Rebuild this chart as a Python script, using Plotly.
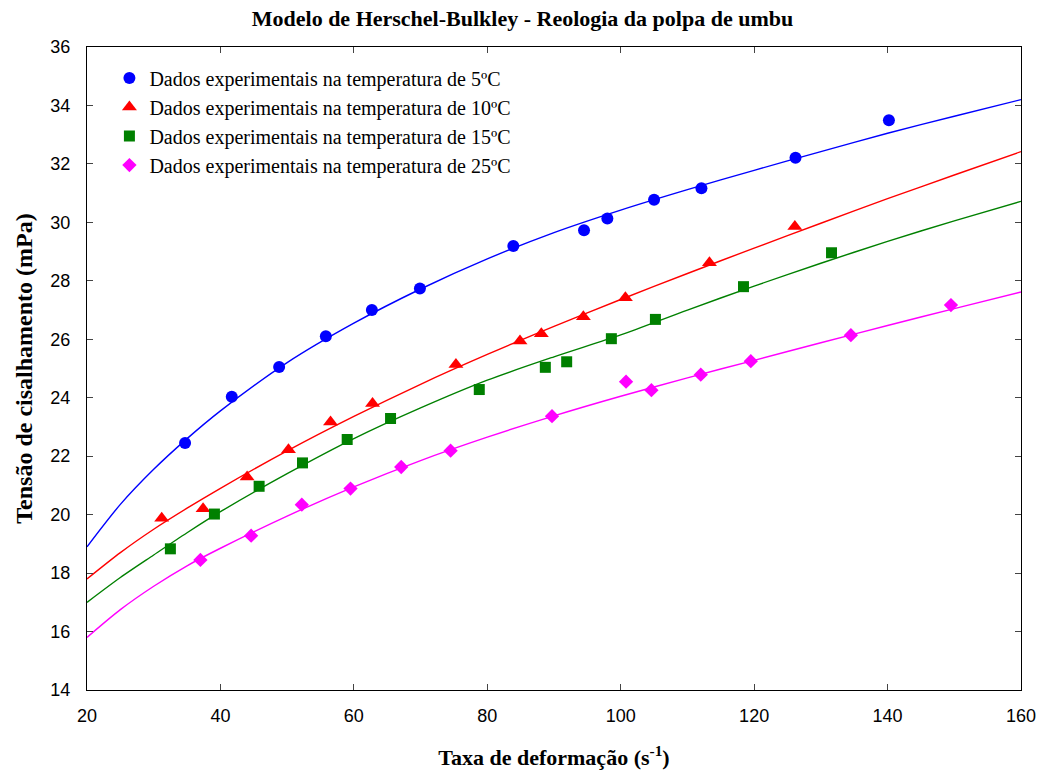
import plotly.graph_objects as go

x5 = [34.7, 41.7, 48.8, 55.8, 62.7, 69.9, 83.9, 94.5, 98.0, 105.0, 112.1, 126.2, 140.2]
y5 = [22.45, 24.03, 25.05, 26.1, 27.0, 27.74, 29.19, 29.73, 30.13, 30.77, 31.17, 32.21, 33.49]

x10 = [31.2, 37.4, 44.0, 50.2, 56.5, 62.8, 75.3, 84.9, 88.1, 94.4, 100.7, 113.3, 126.1]
y10 = [19.88, 20.2, 21.29, 22.22, 23.17, 23.8, 25.14, 25.94, 26.19, 26.77, 27.42, 28.62, 29.86]

x15 = [32.5, 39.1, 45.8, 52.3, 59.0, 65.5, 78.8, 88.7, 91.9, 98.6, 105.2, 118.4, 131.6]
y15 = [18.83, 20.02, 20.97, 21.77, 22.57, 23.29, 24.28, 25.04, 25.23, 26.02, 26.68, 27.8, 28.96]

x25 = [37.0, 44.6, 52.2, 59.5, 67.1, 74.5, 89.7, 100.8, 104.6, 112.0, 119.5, 134.5, 149.5]
y25 = [18.45, 19.28, 20.34, 20.89, 21.63, 22.19, 23.37, 24.55, 24.26, 24.79, 25.25, 26.14, 27.17]

# ---- fitted model curves ----
xfit = [20, 25, 30, 35, 40, 50, 60, 70, 80, 90, 100, 110, 120, 130, 140, 150, 160]
fit5 = [18.9, 20.35, 21.55, 22.6, 23.55, 25.2, 26.55, 27.72, 28.75, 29.65, 30.42, 31.12, 31.78,
        32.42, 33.05, 33.63, 34.2]
fit10 = [17.8, 18.7, 19.5, 20.22, 20.9, 22.18, 23.36, 24.46, 25.48, 26.44, 27.36, 28.25, 29.12,
         29.97, 30.81, 31.62, 32.42]
fit15 = [17.0, 17.85, 18.62, 19.38, 20.1, 21.4, 22.6, 23.65, 24.6, 25.4, 26.15, 27.0, 27.82,
         28.6, 29.35, 30.05, 30.72]
fit25 = [15.8, 16.75, 17.55, 18.25, 18.85, 19.95, 20.95, 21.85, 22.65, 23.38, 24.05, 24.68, 25.28,
         25.88, 26.47, 27.05, 27.62]

names = ["Dados experimentais na temperatura de 5ºC",
         "Dados experimentais na temperatura de 10ºC",
         "Dados experimentais na temperatura de 15ºC",
         "Dados experimentais na temperatura de 25ºC"]
colors = ["#0000FF", "#FF0000", "#008000", "#FF00FF"]
symbols = ["circle", "triangle-up", "square", "diamond"]
sizes = [12, 13, 11, 11]

xticks = [20, 40, 60, 80, 100, 120, 140, 160]
yticks = [14, 16, 18, 20, 22, 24, 26, 28, 30, 32, 34, 36]

fig = go.Figure()
for yf, c in zip([fit5, fit10, fit15, fit25], colors):
    fig.add_trace(go.Scatter(x=xfit, y=yf, mode="lines",
                             line=dict(color=c, width=1.4, shape="spline", smoothing=0.8),
                             showlegend=False, hoverinfo="skip"))
for xs, ys, n, c, s, sz in zip([x5, x10, x15, x25], [y5, y10, y15, y25], names, colors, symbols, sizes):
    fig.add_trace(go.Scatter(x=xs, y=ys, mode="markers", name=n,
                             marker=dict(color=c, symbol=s, size=sz, line=dict(width=0))))

serif = "Liberation Serif, Times New Roman, serif"
sans = "Liberation Sans, Arial, sans-serif"

fig.update_layout(
    width=1045, height=774,
    margin=dict(l=87, r=24, t=47, b=84),
    paper_bgcolor="white", plot_bgcolor="white",
    title=dict(text="<b>Modelo de Herschel-Bulkley - Reologia da polpa de umbu</b>",
               x=0.5, xanchor="center", y=1 - 18 / 774, yanchor="middle",
               font=dict(family=serif, size=22, color="black")),
    legend=dict(x=0.024, y=0.982, xanchor="left", yanchor="top", bgcolor="rgba(0,0,0,0)",
                font=dict(family=serif, size=20, color="black"), tracegroupgap=0),
    xaxis=dict(range=[20, 160], tickvals=xticks, ticks="inside", ticklen=6, tickwidth=1,
               showline=True, linecolor="black", linewidth=1, mirror="ticks", showgrid=False,
               zeroline=False, tickfont=dict(family=sans, size=18, color="black"),
               ticklabelstandoff=9, automargin=False,
               title=dict(text="<b>Taxa de deformação (s<sup>-1</sup>)</b>",
                          font=dict(family=serif, size=22, color="black"), standoff=25)),
    yaxis=dict(range=[14, 36], tickvals=yticks, ticks="inside", ticklen=6, tickwidth=1,
               showline=True, linecolor="black", linewidth=1, mirror="ticks", showgrid=False,
               zeroline=False, tickfont=dict(family=sans, size=18, color="black"),
               ticklabelstandoff=12, automargin=False,
               title=dict(text="<b>Tensão de cisalhamento (mPa)</b>",
                          font=dict(family=serif, size=24, color="black"), standoff=10)),
)

fig.write_html("out.html")
